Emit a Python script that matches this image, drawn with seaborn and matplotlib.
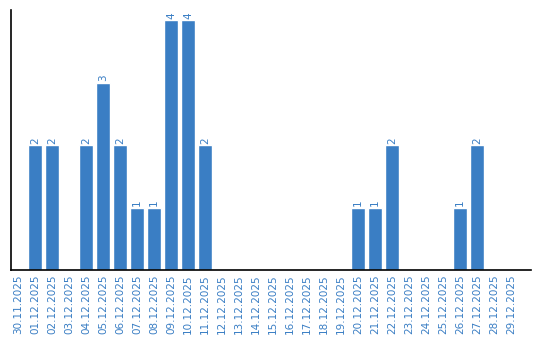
import matplotlib
matplotlib.use("Agg")
import matplotlib.pyplot as plt
import seaborn as sns
import pandas as pd

dates = ["30.11.2025", "01.12.2025", "02.12.2025", "03.12.2025", "04.12.2025",
         "05.12.2025", "06.12.2025", "07.12.2025", "08.12.2025", "09.12.2025",
         "10.12.2025", "11.12.2025", "12.12.2025", "13.12.2025", "14.12.2025",
         "15.12.2025", "16.12.2025", "17.12.2025", "18.12.2025", "19.12.2025",
         "20.12.2025", "21.12.2025", "22.12.2025", "23.12.2025", "24.12.2025",
         "25.12.2025", "26.12.2025", "27.12.2025", "28.12.2025", "29.12.2025"]
counts = [0, 2, 2, 0, 2, 3, 2, 1, 1, 4, 4, 2, 0, 0, 0, 0, 0, 0, 0, 0,
          1, 1, 2, 0, 0, 0, 1, 2, 0, 0]

df = pd.DataFrame({"date": dates, "count": counts})
color = "#3a7ec4"

sns.set_style("white")
fig = plt.figure(figsize=(5.4, 3.4), dpi=100)
ax = fig.add_axes([10.5 / 540, 70 / 340, 520.5 / 540, 260 / 340])
sns.barplot(data=df, x="date", y="count", color=color, saturation=1, width=0.82, ax=ax)

for c in ax.containers:
    labels = [str(int(v)) if v > 0 else "" for v in c.datavalues]
    ax.bar_label(c, labels=labels, rotation=90, padding=1, color=color, fontsize=7.5)

ax.set_xlim(-0.44, 29 + 1.18)
ax.set_ylim(0, 4.16)
ax.set_xlabel("")
ax.set_ylabel("")
ax.set_yticks([])
ax.tick_params(axis="x", rotation=90, labelsize=7.5, labelcolor=color, length=0, pad=3)
for s in ["top", "right"]:
    ax.spines[s].set_visible(False)
for s in ["left", "bottom"]:
    ax.spines[s].set_color("black")
    ax.spines[s].set_linewidth(1.2)

fig.savefig("out.png", dpi=100)
